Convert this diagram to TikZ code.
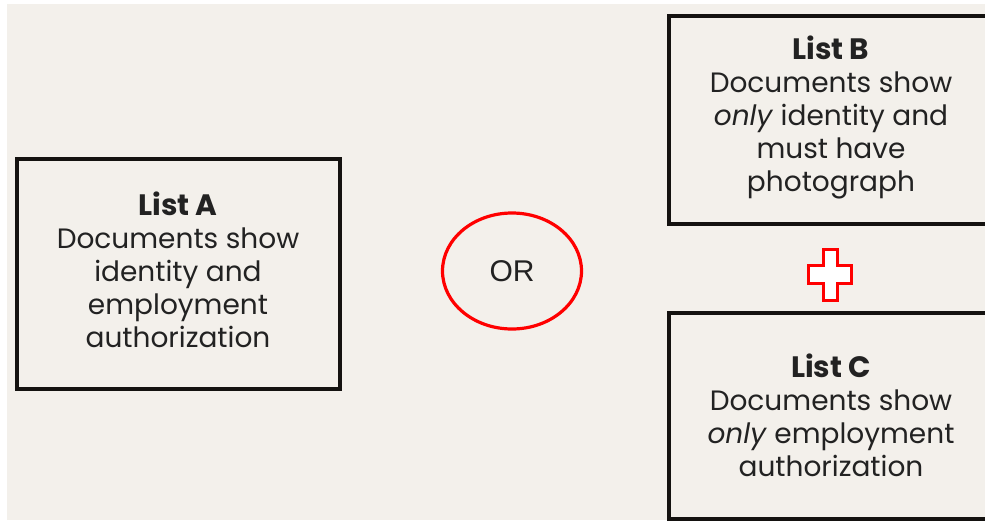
\documentclass[tikz,border=0pt]{standalone}
\usepackage{fontspec}
\setmainfont{Poppins}
\newfontfamily\orfont{Liberation Sans}
\usetikzlibrary{shapes.geometric}
\definecolor{bgbeige}{HTML}{F3F0EB}
\definecolor{boxline}{HTML}{141210}
\definecolor{txt}{HTML}{222222}
\definecolor{orred}{HTML}{FF0000}
\newcommand{\listtitle}[1]{{\fontsize{29.5}{33}\selectfont\bfseries #1}}
\tikzset{
  listbox/.style={draw=boxline, line width=4pt, rectangle, inner sep=0pt},
  listtext/.style={text=txt, align=center, inner sep=0pt, font=\fontsize{28}{33}\selectfont},
  orellipse/.style={draw=orred, line width=3.2pt, ellipse, minimum width=139pt, minimum height=116pt, inner sep=0pt, font=\orfont\fontsize{30}{32}\selectfont, text=txt},
  plusshape/.style={draw=orred, line width=3pt, fill=white, line join=miter}
}
\begin{document}
\begin{tikzpicture}[x=1pt,y=-1pt]
\useasboundingbox (0,0) rectangle (985,520);
\clip (0,0) rectangle (985,520);
\fill[white] (0,0) rectangle (985,520);
\fill[bgbeige] (7,4) rectangle (985,520);

\node[listbox, minimum width=323pt, minimum height=230pt] (A) at (178.5,274) {};
\node[listtext] (Atext) at (178,270) {\listtitle{List A}\\Documents show\\identity and\\employment\\authorization};

\node[listbox, minimum width=340pt, minimum height=208pt] (B) at (839,119.5) {};
\node[listtext] (Btext) at (831,117) {\listtitle{List B}\\Documents show\\\textit{only} identity and\\must have\\photograph};

\node[listbox, minimum width=340pt, minimum height=206pt] (C) at (839,416) {};
\node[listtext] (Ctext) at (831,415) {\listtitle{List C}\\Documents show\\\textit{only} employment\\authorization};

\node[orellipse] (OR) at (512,271) {OR};

\draw[plusshape] (823,249) -- (837,249) -- (837,265) -- (851,265) -- (851,283) -- (837,283) -- (837,300) -- (823,300) -- (823,283) -- (808,283) -- (808,265) -- (823,265) -- cycle;
\end{tikzpicture}
\end{document}
